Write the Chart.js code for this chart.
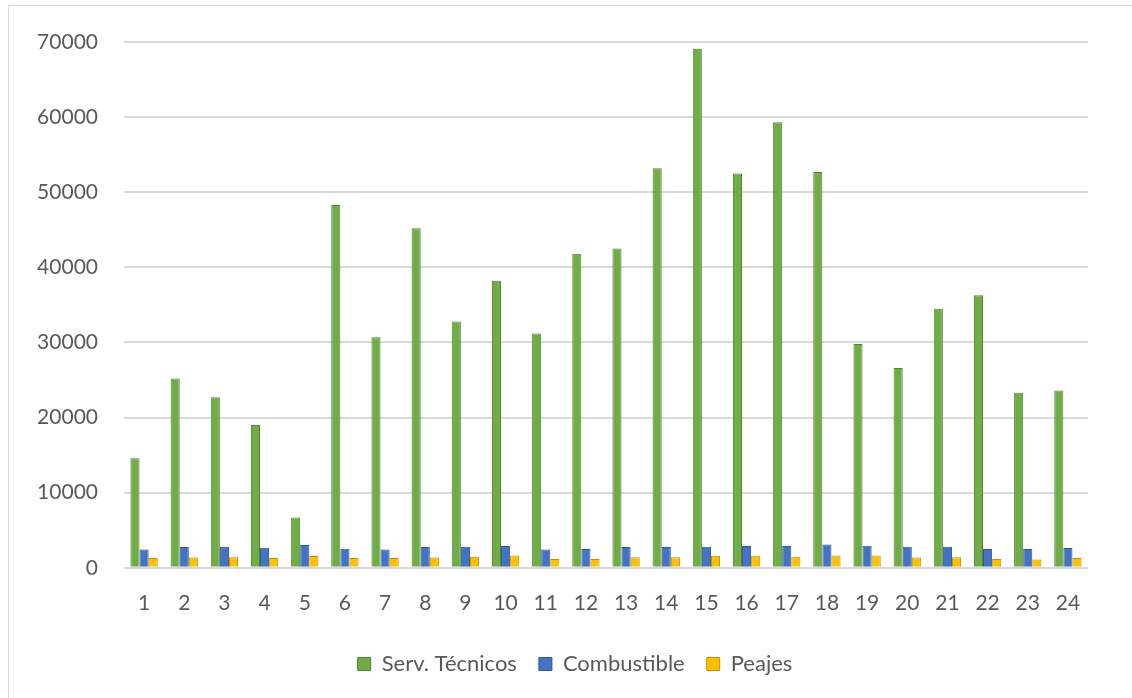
<!DOCTYPE html>
<html>
<head>
<meta charset="utf-8">
<script src="https://cdn.jsdelivr.net/npm/chart.js@4"></script>
<style>
  html, body { margin: 0; padding: 0; background: #fff; }
  #wrap { position: relative; width: 1132px; height: 698px; }
  #frame { position: absolute; left: 8px; top: 5px; right: 0; bottom: 0;
           border-left: 1px solid #d9d9d9; border-top: 1px solid #d9d9d9; }
  canvas { position: absolute; left: 0; top: 0; }
</style>
</head>
<body>
<div id="wrap">
  <div id="frame"></div>
  <canvas id="grafico" width="1132" height="698"></canvas>
</div>
<script>
// Datos
const categorias = ['1','2','3','4','5','6','7','8','9','10','11','12','13','14','15','16','17','18','19','20','21','22','23','24'];
const servTecnicos = [14600, 25200, 22700, 19000, 6700, 48300, 30700, 45200, 32800, 38200, 31200, 41800,
                      42500, 53200, 69100, 52500, 59300, 52700, 29800, 26600, 34500, 36300, 23300, 23600];
const combustible = [2440, 2760, 2800, 2670, 3030, 2530, 2440, 2760, 2800, 2890, 2440, 2490,
                     2760, 2760, 2800, 2890, 2890, 3110, 2930, 2800, 2800, 2490, 2490, 2620];
const peajes = [1290, 1380, 1420, 1290, 1560, 1290, 1290, 1380, 1470, 1640, 1160, 1160,
                1420, 1420, 1600, 1600, 1470, 1640, 1640, 1380, 1420, 1160, 1110, 1290];
const yMax = 70000;
const yPaso = 10000;

const fuente = { family: 'Lato', size: 21 };
const gris = '#595959';

const config = {
    type: 'bar',
    data: {
        labels: categorias,
        datasets: [
            { label: 'Serv. Técnicos', data: servTecnicos, backgroundColor: '#70AD47', borderColor: '#548235', borderWidth: 1 },
            { label: 'Combustible', data: combustible, backgroundColor: '#4472C4', borderColor: '#2F5597', borderWidth: 1 },
            { label: 'Peajes', data: peajes, backgroundColor: '#FFC000', borderColor: '#BF9000', borderWidth: 1 }
        ]
    },
    options: {
        responsive: false,
        animation: false,
        layout: { padding: { left: 18, right: 0, top: 42, bottom: 13 } },
        datasets: { bar: { barPercentage: 1.0, categoryPercentage: 0.68 } },
        plugins: {
            tooltip: { enabled: false },
            legend: {
                position: 'bottom',
                labels: { font: { family: 'Lato', size: 22 }, color: gris, boxWidth: 13, boxHeight: 13, padding: 22 }
            }
        },
        scales: {
            x: {
                grid: { display: false },
                border: { display: false },
                ticks: { font: fuente, color: gris, padding: 15, maxRotation: 0 }
            },
            y: {
                min: 0,
                max: yMax,
                afterFit: scale => { scale.width = 106; },
                grid: { color: '#d9d9d9', lineWidth: 2, drawTicks: false },
                border: { display: false },
                ticks: { stepSize: yPaso, font: fuente, color: gris, padding: 26, callback: v => String(v) }
            },
            // eje vacío a la derecha, solo para reservar margen
            derecha: {
                position: 'right',
                display: true,
                afterFit: scale => { scale.width = 44; },
                grid: { display: false },
                border: { display: false },
                ticks: { display: false }
            }
        }
    }
};

const grafico = new Chart(document.getElementById('grafico'), config);
</script>
</body>
</html>
